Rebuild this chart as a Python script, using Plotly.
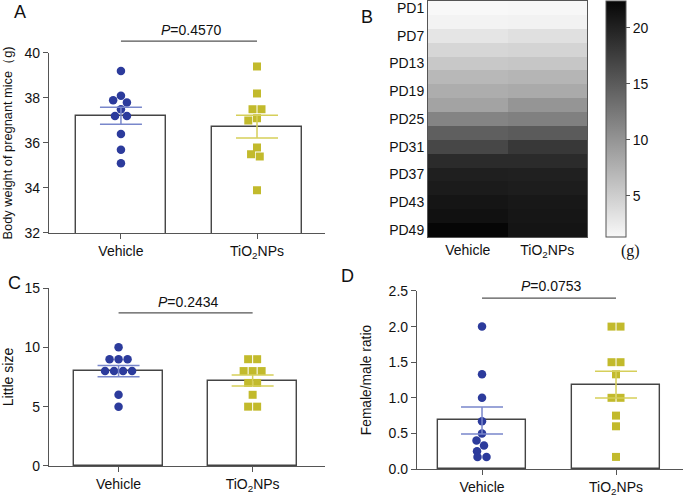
import numpy as np
import plotly.graph_objects as go

groups = ["Vehicle", "TiO<sub>2</sub>NPs"]

# A: body weight of pregnant mice (g)
bw_vehicle = [39.2, 38.1, 37.9, 37.8, 37.5, 37.2, 37.2, 36.4, 35.7, 35.1]
bw_tio2 = [39.4, 38.2, 37.5, 37.5, 37.1, 37.0, 35.8, 35.5, 35.4, 33.9]

# C: litter size
ls_vehicle = [10, 9, 9, 9, 8, 8, 8, 8, 6, 5]
ls_tio2 = [9, 9, 8, 8, 8, 7, 7, 6, 5, 5]

# D: female/male ratio
fm_vehicle = [2.0, 1.33, 1.0, 0.67, 0.5, 0.4, 0.33, 0.25, 0.17, 0.17]
fm_tio2 = [2.0, 2.0, 1.5, 1.5, 1.33, 1.0, 1.0, 0.75, 0.6, 0.17]

p_values = ["0.4570", "0.2434", "0.0753"]

# B: weight gain heatmap (g), pregnancy day 1..49 every 3 days
pd_days = list(range(1, 50, 3))
wg_vehicle = [1.3, 1.7, 3.0, 4.3, 5.5, 6.9, 7.8, 8.7, 11.4, 14.6, 16.7, 19.2, 20.2, 20.6, 21.1, 21.4, 22.4]
wg_tio2 = [1.4, 1.8, 3.4, 4.4, 5.7, 7.1, 8.1, 9.9, 11.8, 15.0, 18.0, 19.2, 20.1, 20.4, 20.8, 21.0, 21.2]

FONT = "Arial, 'Liberation Sans', sans-serif"
BLUE = "#2c3b9c"
YELLOW = "#c2ba2c"
BLUE_ERR = "#7987cb"
YELLOW_ERR = "#d6cf5a"
AXC = "#555555"


def swarm(vals, px_per_unit, px_per_cat, d=9.0):
    # greedy beeswarm, then centre rows of identical values
    vals = np.asarray(vals, dtype=float)
    order = np.argsort(-vals, kind="stable")
    xs = np.zeros(len(vals))
    placed = []
    for i in order:
        y = vals[i] * px_per_unit
        blocked = []
        for py, px in placed:
            dy = abs(py - y)
            if dy < d:
                w = np.sqrt(d * d - dy * dy)
                blocked.append((px - w, px + w))
        cands = [0.0] + [b for iv in blocked for b in iv]
        cands.sort(key=lambda c: (abs(c), c))
        for c in cands:
            if all(not (lo + 1e-6 < c < hi - 1e-6) for lo, hi in blocked):
                break
        xs[i] = c
        placed.append((y, c))
    for v in np.unique(vals):
        idx = np.where(vals == v)[0]
        if len(idx) > 1:
            xs[idx] -= xs[idx].mean()
    return xs / px_per_cat


def to_paper(dom, rng, v):
    return dom[0] + (v - rng[0]) / (rng[1] - rng[0]) * (dom[1] - dom[0])


fig = go.Figure()

panels = [
    dict(data=(bw_vehicle, bw_tio2), xa="x", ya="y",
         xd=[0.0715, 0.4745], yd=[0.5312, 0.8934], xr=[-0.529, 1.5], yr=[32, 40],
         ppu=22.5, ppc=136, pline=40.53, ptext=41.02, p=p_values[0]),
    dict(data=(ls_vehicle, ls_tio2), xa="x3", ya="y3",
         xd=[0.0715, 0.4745], yd=[0.0624, 0.4205], xr=[-0.519, 1.54], yr=[0, 15],
         ppu=11.87, ppc=134, pline=12.9, ptext=13.82, p=p_values[1]),
    dict(data=(fm_vehicle, fm_tio2), xa="x4", ya="y4",
         xd=[0.6088, 0.9971], yd=[0.0563, 0.4145], xr=[-0.485, 1.5], yr=[0, 2.5],
         ppu=71.2, ppc=134, pline=2.40, ptext=2.57, p=p_values[2]),
]

for pn in panels:
    vals_v, vals_t = pn["data"]
    means = [np.mean(vals_v), np.mean(vals_t)]
    sems = [np.std(v, ddof=1) / np.sqrt(len(v)) for v in (vals_v, vals_t)]
    fig.add_trace(go.Bar(x=[0, 1], y=means, width=0.66,
                         marker=dict(color="white", line=dict(color="#444", width=1.4)),
                         xaxis=pn["xa"], yaxis=pn["ya"], showlegend=False, hoverinfo="skip"))
    for k, (vals, col, sym) in enumerate([(vals_v, BLUE, "circle"), (vals_t, YELLOW, "square")]):
        off = swarm(vals, pn["ppu"], pn["ppc"])
        fig.add_trace(go.Scatter(x=k + off, y=vals, mode="markers",
                                 marker=dict(color=col, symbol=sym, size=8.5 if sym == "circle" else 8,
                                             line=dict(width=0)),
                                 xaxis=pn["xa"], yaxis=pn["ya"], showlegend=False, cliponaxis=False))
    for k, ecol in enumerate([BLUE_ERR, YELLOW_ERR]):
        fig.add_trace(go.Scatter(x=[k], y=[means[k]], mode="markers", marker=dict(size=1, opacity=0),
                                 error_y=dict(type="data", array=[sems[k]], color=ecol,
                                              thickness=1.5, width=21),
                                 xaxis=pn["xa"], yaxis=pn["ya"], showlegend=False))
    # P-value bracket line and label (paper coords so they may sit above the axis range)
    yl = to_paper(pn["yd"], pn["yr"], pn["pline"])
    fig.add_shape(type="line", xref="paper", yref="paper",
                  x0=to_paper(pn["xd"], pn["xr"], 0), x1=to_paper(pn["xd"], pn["xr"], 1),
                  y0=yl, y1=yl, line=dict(color=AXC, width=1.3))
    fig.add_annotation(x=to_paper(pn["xd"], pn["xr"], 0.52), y=to_paper(pn["yd"], pn["yr"], pn["ptext"]),
                       xref="paper", yref="paper", xanchor="center", yanchor="middle", showarrow=False,
                       text="<i>P</i>=" + pn["p"], font=dict(size=14, color="#111"))

# heatmap
fig.add_trace(go.Heatmap(
    z=np.column_stack([wg_vehicle, wg_tio2]), x=[0, 1], y=pd_days,
    colorscale=[[0, "#f8f8f8"], [1, "#060606"]], zmin=1.3, zmax=22.4,
    xaxis="x2", yaxis="y2", hoverinfo="skip",
    colorbar=dict(x=606 / 685, xanchor="left", xpad=0, y=0.998, yanchor="top", ypad=0,
                  len=236, lenmode="pixels", thickness=20, thicknessmode="pixels",
                  outlinecolor=AXC, outlinewidth=1, tickvals=[5, 10, 15, 20],
                  ticks="outside", ticklen=4, tickcolor=AXC,
                  title=dict(text="", side="right"),
                  tickfont=dict(size=14, color="#111", family=FONT)),
))

ax = dict(showline=True, linecolor=AXC, linewidth=1.3, ticks="outside", ticklen=5,
          tickcolor=AXC, tickwidth=1.3, showgrid=False, zeroline=False, ticklabeloverflow="allow",
          tickfont=dict(size=14, color="#111", family=FONT))

fig.update_layout(
    width=685, height=497, margin=dict(l=0, r=0, t=0, b=0, autoexpand=False),
    paper_bgcolor="white", plot_bgcolor="white",
    font=dict(family=FONT, color="#111"),
    bargap=0,
    xaxis=dict(ax, domain=panels[0]["xd"], range=panels[0]["xr"], tickvals=[0, 1], ticktext=groups, anchor="y"),
    yaxis=dict(ax, domain=panels[0]["yd"], range=panels[0]["yr"], tickvals=[32, 34, 36, 38, 40], anchor="x",
               title=dict(text="Body weight of pregnant mice（g)", font=dict(size=12.8), standoff=14)),
    xaxis3=dict(ax, domain=panels[1]["xd"], range=panels[1]["xr"], tickvals=[0, 1], ticktext=groups, anchor="y3"),
    yaxis3=dict(ax, domain=panels[1]["yd"], range=panels[1]["yr"], tickvals=[0, 5, 10, 15], anchor="x3",
                title=dict(text="Little size", font=dict(size=14), standoff=15)),
    xaxis4=dict(ax, domain=panels[2]["xd"], range=panels[2]["xr"], tickvals=[0, 1], ticktext=groups, anchor="y4"),
    yaxis4=dict(ax, domain=panels[2]["yd"], range=panels[2]["yr"], tickvals=[0, 0.5, 1, 1.5, 2, 2.5],
                tickformat=".1f", anchor="x4",
                title=dict(text="Female/male ratio", font=dict(size=13.8), standoff=13)),
    xaxis2=dict(domain=[428 / 685, 587 / 685], range=[-0.5, 1.5], tickvals=[0, 1], ticktext=groups,
                showline=True, mirror=True, linecolor=AXC, linewidth=1, ticks="", showgrid=False,
                zeroline=False, ticklabeloverflow="allow",
                tickfont=dict(size=14, color="#111", family=FONT), anchor="y2"),
    yaxis2=dict(domain=[1 - 237 / 497, 1 - 1 / 497], range=[50.5, -0.5], tickvals=pd_days[::2],
                ticktext=["PD%d" % d for d in pd_days[::2]],
                showline=True, mirror=True, linecolor=AXC, linewidth=1, ticks="", showgrid=False,
                zeroline=False, ticklabeloverflow="allow",
                tickfont=dict(size=14, color="#111", family=FONT), anchor="x2"),
)

# panel letters and colorbar unit
for txt, x, y in [("A", 20, 12), ("B", 367, 17), ("C", 14, 283), ("D", 347, 276)]:
    fig.add_annotation(x=x / 685, y=1 - y / 497, xref="paper", yref="paper", text=txt,
                       xanchor="center", yanchor="middle",
                       showarrow=False, font=dict(size=18, color="#111"))
fig.add_annotation(x=630 / 685, y=1 - 251 / 497, xref="paper", yref="paper", text="(g)",
                   xanchor="center", yanchor="middle", showarrow=False,
                   font=dict(size=16, color="#111", family="'Liberation Serif', 'DejaVu Serif', serif"))

# page body has a default 8px margin; remove it so the figure fills the window
fig.write_html("out.html", config={"displayModeBar": False},
               post_script="document.body.style.margin='0';")
